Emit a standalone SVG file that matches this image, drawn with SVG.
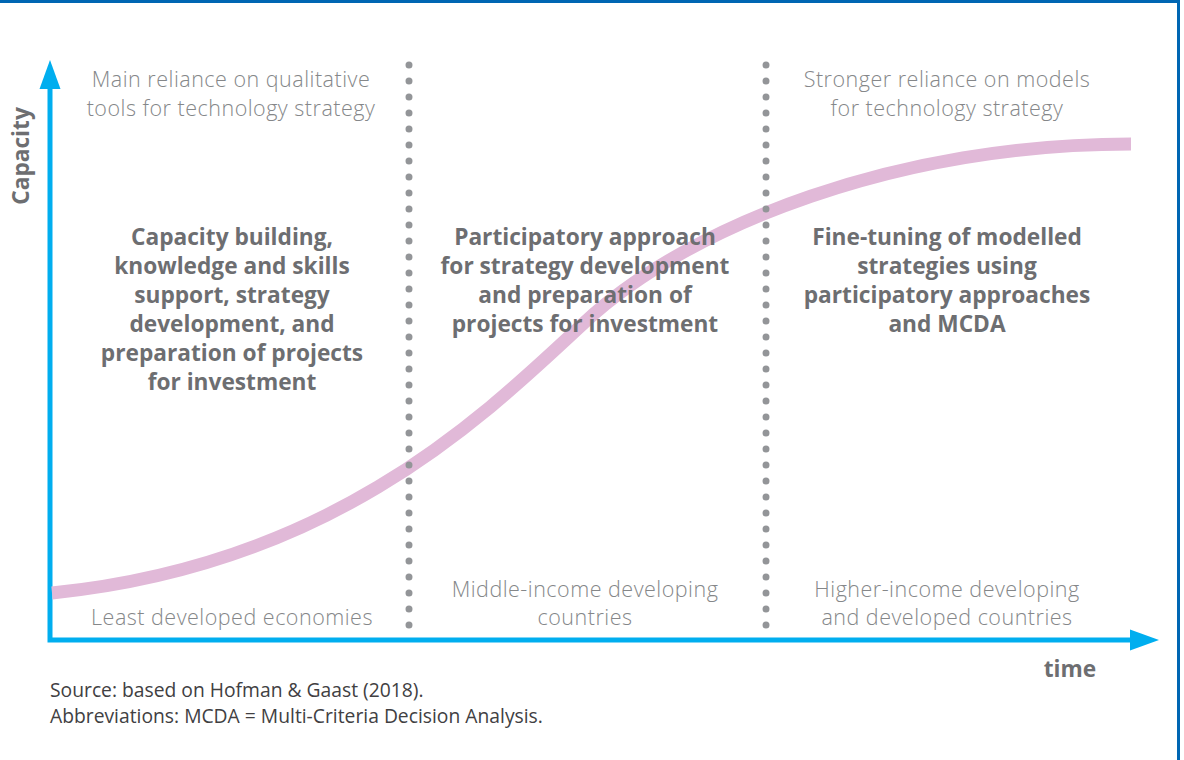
<svg xmlns="http://www.w3.org/2000/svg" width="1184" height="760" viewBox="0 0 1184 760">
<defs>
<style>
.note{font-family:"Open Sans","Liberation Sans",sans-serif;font-weight:300;font-size:21.5px;letter-spacing:0.5px;fill:#858789;text-anchor:middle}
.bold{font-family:"Open Sans","Liberation Sans",sans-serif;font-weight:700;font-size:22.7px;fill:#6d6e71;text-anchor:middle}
.axis{stroke:#00aeef;stroke-width:5;fill:none}
.dots{stroke:#939598;stroke-width:7;stroke-linecap:round;stroke-dasharray:0 16;fill:none}
.foot{font-family:"Open Sans","Liberation Sans",sans-serif;font-size:19.3px;fill:#414042}
</style>
</defs>
<rect width="1184" height="760" fill="#ffffff"/>
<path d="M0,1.5 H1178.5 V760" fill="none" stroke="#0066b3" stroke-width="3"/>

<g id="axes">
<path class="axis" d="M50,88 V640 H1132"/>
<polygon points="50,60 39.5,89 60.5,89" fill="#00aeef"/>
<polygon points="1159,640 1130,629.5 1130,650.5" fill="#00aeef"/>
<text class="bold" font-size="22" transform="translate(29,156) rotate(-90)">Capacity</text>
<text class="bold" font-size="22" x="1070" y="677">time</text>
</g>

<g id="curve">
<path d="M52,593 C330,565 480,420 585,322 C690,224 900,144 1131,144" fill="none" stroke="#e1b9d8" stroke-width="13"/>
</g>

<g id="phase1">
<text class="note"><tspan x="231" y="87">Main reliance on qualitative</tspan><tspan x="231" y="116">tools for technology strategy</tspan></text>
<text class="bold"><tspan x="232" y="245">Capacity building,</tspan><tspan x="232" y="274">knowledge and skills</tspan><tspan x="232" y="303">support, strategy</tspan><tspan x="232" y="332">development, and</tspan><tspan x="232" y="361">preparation of projects</tspan><tspan x="232" y="390">for investment</tspan></text>
<text class="note" x="232" y="625">Least developed economies</text>
</g>

<g id="phase2">
<text class="bold"><tspan x="585" y="245">Participatory approach</tspan><tspan x="585" y="274">for strategy development</tspan><tspan x="585" y="303">and preparation of</tspan><tspan x="585" y="332">projects for investment</tspan></text>
<text class="note"><tspan x="585" y="597">Middle-income developing</tspan><tspan x="585" y="625">countries</tspan></text>
</g>

<g id="phase3">
<text class="note"><tspan x="947" y="87">Stronger reliance on models</tspan><tspan x="947" y="116">for technology strategy</tspan></text>
<text class="bold"><tspan x="947" y="245">Fine-tuning of modelled</tspan><tspan x="947" y="274">strategies using</tspan><tspan x="947" y="303">participatory approaches</tspan><tspan x="947" y="332">and MCDA</tspan></text>
<text class="note"><tspan x="947" y="597">Higher-income developing</tspan><tspan x="947" y="625">and developed countries</tspan></text>
</g>

<g id="connectors">
<line class="dots" x1="409" y1="65" x2="409" y2="641"/>
<line class="dots" x1="766" y1="65" x2="766" y2="641"/>
</g>

<g id="footer">
<text class="foot" x="50" y="697">Source: based on Hofman &amp; Gaast (2018).</text>
<text class="foot" x="50" y="723">Abbreviations: MCDA = Multi-Criteria Decision Analysis.</text>
</g>
</svg>
